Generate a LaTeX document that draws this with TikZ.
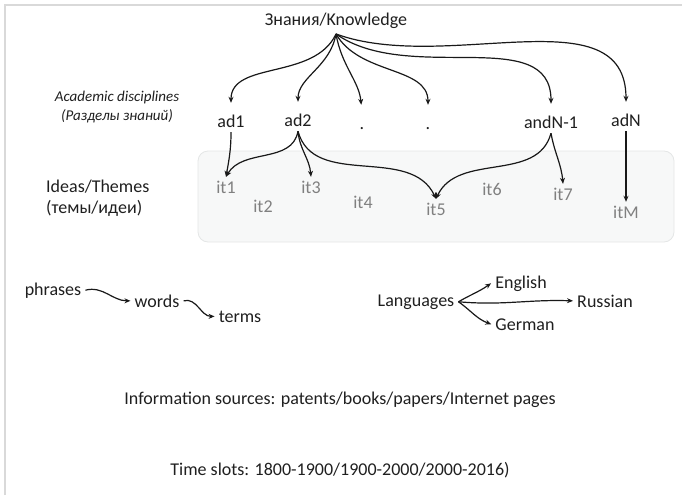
\documentclass[tikz,border=0pt]{standalone}
\usepackage{fontspec}
\setmainfont{Carlito}
\usepackage{tikz}
\usetikzlibrary{
  arrows.meta,              % Stealth 箭头
  positioning               % 节点相对定位
}
\definecolor{framegray}{HTML}{D9D9D9}
\definecolor{boxfill}{HTML}{F7F8F8}
\definecolor{boxline}{HTML}{E4E6E6}
\tikzset{
  lbl/.style={
    font=\fontsize{18}{21}\selectfont,
    text=black!88,
    inner xsep=4pt,
    inner ysep=2pt
  },
  adlbl/.style={
    lbl,
    anchor=base,
    text height=13pt,
    text depth=3pt
  },
  itlbl/.style={
    lbl,
    anchor=base,
    text=black!50,
    text height=11pt,
    text depth=0pt,
    inner ysep=5pt
  },
  notelbl/.style={
    font=\fontsize{15}{19}\selectfont\itshape,
    text=black!88,
    align=center
  },
  link/.style={
    -{Stealth[length=6pt,width=5pt]},
    line width=1.2pt,
    color=black!90
  },
  themebox/.style={
    draw=boxline,
    fill=boxfill,
    line width=0.8pt,
    rounded corners=10pt
  }
}

\begin{document}
\begin{tikzpicture}[x=1pt, y=1pt] % 以像素为单位，y 向下取负值
  \useasboundingbox (0,0) rectangle (682,-495);

  % 外框的左边与上边
  \draw[framegray, line width=2pt] (4.5,-495) -- (4.5,-5) -- (682,-5);

  % 主题区域的浅灰圆角框
  \draw[themebox] (198,-151) rectangle (674,-242);

  % 顶部与学科层
  \node[lbl, inner ysep=5pt] (know) at (336,-21) {Знания/Knowledge};
  \node[notelbl] (acad) at (117,-107) {Academic disciplines\\(Разделы знаний)};
  \node[adlbl] (ad1) at (231,-127) {ad1};
  \node[adlbl] (ad2) at (298,-126) {ad2};
  \node[adlbl] (dotA) at (362,-129) {.};
  \node[adlbl] (dotB) at (428,-129) {.};
  \node[adlbl] (adN1) at (551,-128) {andN-1};
  \node[adlbl] (adN) at (626,-126) {adN};

  % 主题层
  \node[lbl, align=left, anchor=west] (ideas) at (42,-198) {Ideas/Themes\\(темы/идеи)};
  \node[itlbl] (it1) at (226,-193) {it1};
  \node[itlbl] (it2) at (263,-212) {it2};
  \node[itlbl] (it3) at (311,-193) {it3};
  \node[itlbl] (it4) at (363,-208) {it4};
  \node[itlbl] (it5) at (436,-215) {it5};
  \node[itlbl] (it6) at (492,-195) {it6};
  \node[itlbl] (it7) at (563,-200) {it7};
  \node[itlbl] (itM) at (626,-218) {itM};

  % 知识到学科的箭头
  \draw[link, shorten >=9pt] (know.south) to[out=245, in=90] (ad1.north);
  \draw[link, shorten >=9pt] (know.south) to[out=260, in=90] (ad2.north);
  \draw[link, shorten >=9pt] (know.south) to[out=280, in=95] (dotA.north);
  \draw[link, shorten >=9pt] (know.south) to[out=300, in=90] (dotB.north);
  \draw[link, shorten >=9pt] (know.south) to[out=325, in=90] (adN1.north);
  \draw[link, shorten >=9pt] (know.south) to[out=340, in=90] (adN.north);

  % 学科到主题的箭头
  \draw[link] (ad1.south) to[out=270, in=80] (it1.north);
  \draw[link] (ad2.south) to[out=260, in=60] (it1.north);
  \draw[link] (ad2.south) to[out=275, in=95] (it3.north);
  \draw[link] (ad2.south) to[out=285, in=115] (it5.north);
  \draw[link] (adN1.south) to[out=255, in=65] (it5.north);
  \draw[link] (adN1.south) to[out=280, in=95] (it7.north);
  \draw[link] (adN.south) -- (itM.north);

  % 短语、词、术语
  \node[lbl, anchor=base] (phr) at (53,-295) {phrases};
  \node[lbl, anchor=base] (wrd) at (157,-307) {words};
  \node[lbl, anchor=base] (trm) at (240,-322) {terms};
  \draw[link] (phr.east) to[out=15, in=180] (wrd.west);
  \draw[link] (wrd.east) to[out=15, in=180] (trm.west);

  % 语言
  \node[lbl, anchor=base] (lang) at (416,-306) {Languages};
  \node[lbl, anchor=base] (eng) at (521,-288) {English};
  \node[lbl, anchor=base] (rus) at (605,-307) {Russian};
  \node[lbl, anchor=base] (ger) at (525,-330) {German};
  \draw[link] (lang.east) to[out=30, in=215] (eng.west);
  \draw[link] (lang.east) to[out=-5, in=178] (rus.west);
  \draw[link] (lang.east) to[out=-35, in=160] (ger.west);

  % 底部说明文字
  \node[lbl] (src) at (340,-400) {Information sources: patents/books/papers/Internet pages};
  \node[lbl] (slots) at (340,-470) {Time slots: 1800-1900/1900-2000/2000-2016)};

\end{tikzpicture}
\end{document}
